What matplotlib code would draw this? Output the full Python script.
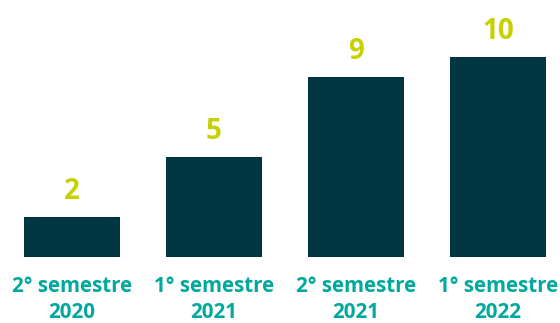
import matplotlib
matplotlib.use("Agg")
import matplotlib.pyplot as plt

categories = ["2° semestre\n2020", "1° semestre\n2021", "2° semestre\n2021", "1° semestre\n2022"]
values = [2, 5, 9, 10]

bar_color = "#003641"
value_color = "#c5d200"
cat_color = "#00a99d"

fig = plt.figure(figsize=(5.6, 3.23), dpi=100)
ax = fig.add_axes([0, 0, 1, 1])
x = list(range(len(values)))
ax.bar(x, values, width=0.67, color=bar_color)
ax.set_xlim(-0.507, 3.437)
ax.set_ylim(-3.3, 12.85)
ax.axis("off")

for xi, v in zip(x, values):
    ax.annotate(str(v), (xi, v), xytext=(0, 11), textcoords="offset pixels",
                ha="center", va="bottom", color=value_color,
                fontsize=20, fontweight="bold", family="Open Sans")
for xi, c in zip(x, categories):
    ax.annotate(c, (xi, 0), xytext=(0, -19), textcoords="offset pixels",
                ha="center", va="top", color=cat_color,
                fontsize=14.8, fontweight="bold", family="Open Sans",
                linespacing=1.3)

fig.savefig("out.png", dpi=100)
